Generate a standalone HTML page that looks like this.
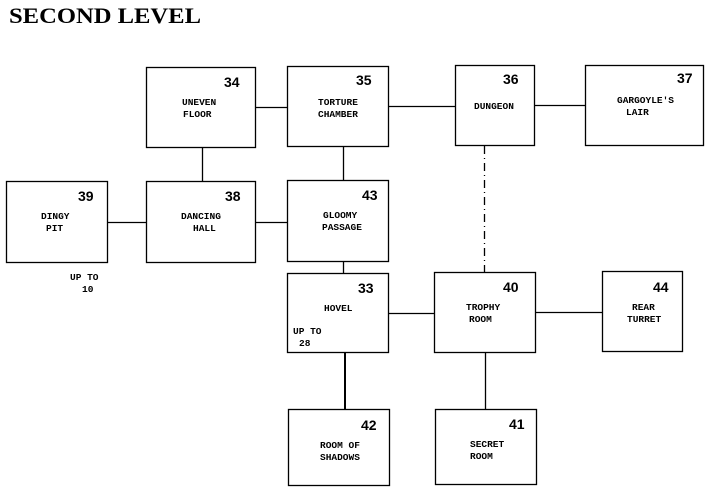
<!DOCTYPE html>
<html><head><meta charset="utf-8"><style>
html,body{margin:0;padding:0;background:#fff;}
svg{display:block;}
.l{font-family:"Liberation Mono",monospace;font-weight:bold;font-size:9.5px;fill:#000;}
.n{font-family:"Liberation Sans",sans-serif;font-weight:bold;font-size:14px;fill:#000;}
</style></head><body>
<svg width="716" height="497" viewBox="0 0 716 497" xmlns="http://www.w3.org/2000/svg">
<rect width="716" height="497" fill="#fff"/>
<text x="9" y="23" font-family="Liberation Serif,serif" font-weight="bold" font-size="22" textLength="192" lengthAdjust="spacingAndGlyphs">SECOND LEVEL</text>
<g fill="none" stroke="#000" stroke-width="1.3">
<rect x="146.5" y="67.5" width="109" height="80"/>
<rect x="287.5" y="66.5" width="101" height="80"/>
<rect x="455.5" y="65.5" width="79" height="80"/>
<rect x="585.5" y="65.5" width="118" height="80"/>
<rect x="6.5" y="181.5" width="101" height="81"/>
<rect x="146.5" y="181.5" width="109" height="81"/>
<rect x="287.5" y="180.5" width="101" height="81"/>
<rect x="287.5" y="273.5" width="101" height="79"/>
<rect x="434.5" y="272.5" width="101" height="80"/>
<rect x="602.5" y="271.5" width="80" height="80"/>
<rect x="288.5" y="409.5" width="101" height="76"/>
<rect x="435.5" y="409.5" width="101" height="75"/>
<line x1="256" y1="107.5" x2="287" y2="107.5"/>
<line x1="389" y1="106.5" x2="455" y2="106.5"/>
<line x1="535" y1="105.5" x2="585" y2="105.5"/>
<line x1="202.5" y1="148" x2="202.5" y2="181"/>
<line x1="343.5" y1="147" x2="343.5" y2="180"/>
<line x1="108" y1="222.5" x2="146" y2="222.5"/>
<line x1="256" y1="222.5" x2="287" y2="222.5"/>
<line x1="343.5" y1="262" x2="343.5" y2="273"/>
<line x1="389" y1="313.5" x2="434" y2="313.5"/>
<line x1="536" y1="312.5" x2="602" y2="312.5"/>
<line x1="345" y1="353" x2="345" y2="409" stroke-width="2"/>
<line x1="485.5" y1="353" x2="485.5" y2="409"/>
<line x1="484.5" y1="146" x2="484.5" y2="272" stroke-dasharray="8,4,1,4"/>
</g>
<text class="n" x="224" y="87">34</text>
<text class="l" x="182" y="105">UNEVEN</text><text class="l" x="183" y="117">FLOOR</text>
<text class="n" x="356" y="85">35</text>
<text class="l" x="318" y="105">TORTURE</text><text class="l" x="318" y="117">CHAMBER</text>
<text class="n" x="503" y="84">36</text>
<text class="l" x="474" y="109">DUNGEON</text>
<text class="n" x="677" y="83">37</text>
<text class="l" x="617" y="103">GARGOYLE'S</text><text class="l" x="626" y="115">LAIR</text>
<text class="n" x="78" y="201">39</text>
<text class="l" x="41" y="219">DINGY</text><text class="l" x="46" y="231">PIT</text>
<text class="l" x="70" y="280">UP TO</text><text class="l" x="82" y="292">10</text>
<text class="n" x="225" y="201">38</text>
<text class="l" x="181" y="219">DANCING</text><text class="l" x="193" y="231">HALL</text>
<text class="n" x="362" y="200">43</text>
<text class="l" x="323" y="218">GLOOMY</text><text class="l" x="322" y="230">PASSAGE</text>
<text class="n" x="358" y="293">33</text>
<text class="l" x="324" y="311">HOVEL</text>
<text class="l" x="293" y="334">UP TO</text><text class="l" x="299" y="346">28</text>
<text class="n" x="503" y="292">40</text>
<text class="l" x="466" y="310">TROPHY</text><text class="l" x="469" y="322">ROOM</text>
<text class="n" x="653" y="292">44</text>
<text class="l" x="632" y="310">REAR</text><text class="l" x="627" y="322">TURRET</text>
<text class="n" x="361" y="430">42</text>
<text class="l" x="320" y="448">ROOM OF</text><text class="l" x="320" y="460">SHADOWS</text>
<text class="n" x="509" y="429">41</text>
<text class="l" x="470" y="447">SECRET</text><text class="l" x="470" y="459">ROOM</text>
</svg>
</body></html>
